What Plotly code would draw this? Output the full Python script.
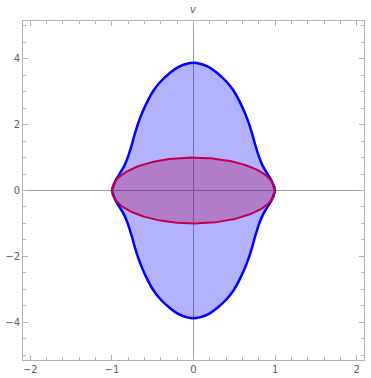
import plotly.graph_objects as go
import numpy as np

# upper boundary of blue region (left half), mirrored to the right and below
u_half = [-1.0, -0.99, -0.96, -0.91, -0.85, -0.807, -0.76, -0.715, -0.66, -0.59, -0.49, -0.40, -0.30, -0.17, 0.0]
v_half = [0.0, 0.08, 0.28, 0.49, 0.74, 1.0, 1.36, 1.76, 2.17, 2.58, 3.04, 3.32, 3.55, 3.77, 3.88]

ellipse_rx = 1.0
ellipse_ry = 1.0

xticks = [-2, -1, 0, 1, 2]
yticks = [-4, -2, 0, 2, 4]

u_up = u_half + [-u for u in reversed(u_half[:-1])]
v_up = v_half + list(reversed(v_half[:-1]))
u_poly = u_up + list(reversed(u_up))[1:]
v_poly = v_up + [-v for v in reversed(v_up)][1:]

t = np.linspace(0, 2 * np.pi, 200)
ex = ellipse_rx * np.cos(t)
ey = ellipse_ry * np.sin(t)

fig = go.Figure()
fig.add_trace(go.Scatter(x=u_poly, y=v_poly, mode="lines", fill="toself",
                         fillcolor="rgba(0,0,255,0.3)",
                         line=dict(color="#0000ff", width=2.5, shape="spline", smoothing=1.0),
                         hoverinfo="skip", showlegend=False))
fig.add_trace(go.Scatter(x=ex, y=ey, mode="lines", fill="toself",
                         fillcolor="rgba(176,0,72,0.3)", line=dict(color="#c0004a", width=2),
                         hoverinfo="skip", showlegend=False))

axis_common = dict(showgrid=False, zeroline=True, zerolinecolor="#a0a0a0", zerolinewidth=1,
                   showline=True, linecolor="#b4b4b4", linewidth=1, mirror="ticks",
                   ticks="inside", ticklen=5, tickcolor="#b4b4b4", automargin=False,
                   tickfont=dict(family="DejaVu Sans", size=10, color="#606060"))

fig.update_xaxes(range=[-2.09, 2.09], tickvals=xticks, ticktext=[str(v).replace("-", "−") for v in xticks],
                 minor=dict(dtick=0.2, ticklen=3, tickcolor="#b4b4b4", ticks="inside"), **axis_common)
fig.update_yaxes(range=[-5.15, 5.15], tickvals=yticks, ticktext=[str(v).replace("-", "−") for v in yticks],
                 minor=dict(dtick=0.5, ticklen=3, tickcolor="#b4b4b4", ticks="inside"), **axis_common)

fig.add_annotation(x=0, y=1, xref="x", yref="paper", yanchor="bottom", yshift=4, text="<i>v</i>",
                   showarrow=False, font=dict(family="DejaVu Sans", size=10, color="#606060"))

fig.update_layout(width=371, height=378, margin=dict(l=23, r=7, t=21, b=18),
                  plot_bgcolor="white", paper_bgcolor="white")

fig.write_html("out.html", config={"displayModeBar": False},
               post_script="document.body.style.margin='0';document.body.style.overflow='hidden';")
